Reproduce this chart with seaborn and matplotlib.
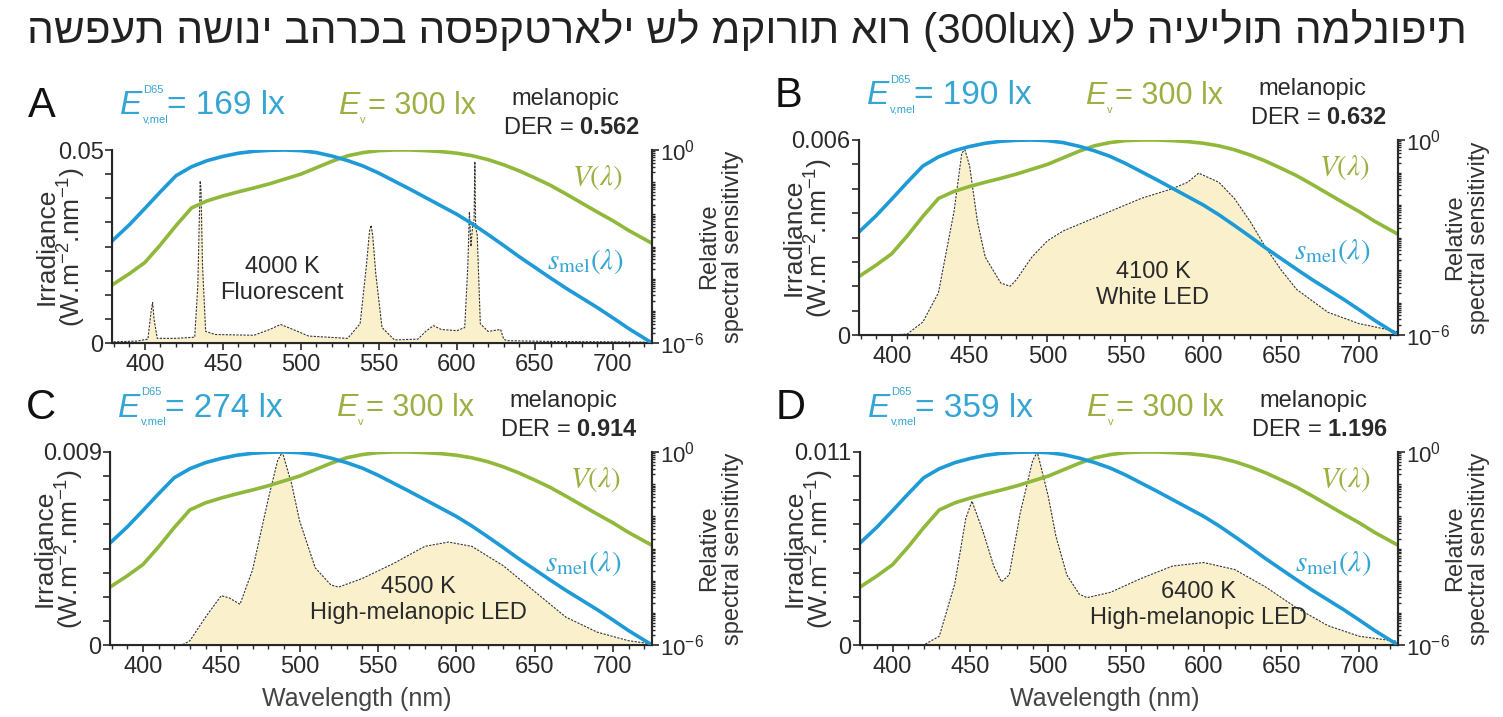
import numpy as np
import matplotlib
matplotlib.use("Agg")
import matplotlib.pyplot as plt
import seaborn as sns
from matplotlib.ticker import FixedLocator, MultipleLocator, NullFormatter

sns.set_style("ticks")
plt.rcParams['font.family'] = ['Liberation Sans', 'DejaVu Sans']
plt.rcParams['mathtext.fontset'] = 'custom'
plt.rcParams['mathtext.rm'] = 'Liberation Sans'
plt.rcParams['mathtext.it'] = 'Liberation Sans:italic'
plt.rcParams['mathtext.bf'] = 'Liberation Sans:bold'

# relative spectral sensitivities (log10), same for every panel
wl_sens = [379, 390, 400, 410, 420, 430, 440, 450, 460, 470, 480, 490, 500, 510, 520,
           530, 540, 550, 560, 570, 580, 590, 600, 610, 620, 630, 640, 650, 660, 670,
           680, 690, 700, 710, 725]
smel_log = [-2.83, -2.33, -1.82, -1.3, -0.8, -0.52, -0.33, -0.2, -0.1, -0.04, -0.01, 0.0,
            -0.02, -0.08, -0.19, -0.33, -0.5, -0.72, -0.97, -1.22, -1.48, -1.74, -2.0,
            -2.3, -2.63, -2.97, -3.32, -3.65, -3.98, -4.3, -4.6, -4.9, -5.22, -5.55, -6.0]
vlam_log = [-4.2, -3.85, -3.5, -2.95, -2.35, -1.8, -1.58, -1.43, -1.3, -1.18, -1.05, -0.9,
            -0.75, -0.55, -0.35, -0.18, -0.08, -0.02, 0.0, 0.0, -0.02, -0.05, -0.1, -0.18,
            -0.3, -0.46, -0.65, -0.87, -1.1, -1.37, -1.65, -1.93, -2.2, -2.5, -2.9]

# A: 4000 K fluorescent
wl_a = [380, 395, 402, 404, 405, 406, 408, 420, 432, 434, 435.5, 436, 437, 439, 445, 470,
        480, 487, 495, 505, 530, 538, 542, 544, 545, 546, 548, 552, 560, 575, 580, 585,
        590, 600, 605, 607, 608, 609, 610, 611, 611.5, 612, 613, 615, 620, 628, 630, 632,
        660, 700, 725]
irr_a = [0.0003, 0.0005, 0.001, 0.008, 0.0105, 0.006, 0.0012, 0.0012, 0.0015, 0.015, 0.042,
         0.04, 0.02, 0.003, 0.0022, 0.002, 0.0035, 0.0048, 0.0035, 0.0018, 0.0012, 0.005,
         0.02, 0.029, 0.0305, 0.028, 0.018, 0.004, 0.0008, 0.001, 0.003, 0.0045, 0.0035,
         0.0032, 0.004, 0.02, 0.034, 0.025, 0.03, 0.032, 0.047, 0.03, 0.028, 0.005, 0.003,
         0.0035, 0.001, 0.0006, 0.0004, 0.0003, 0.0002]

# B: 4100 K white LED
wl_b = [380, 400, 410, 420, 430, 440, 445, 447, 450, 455, 460, 470, 476, 480, 490, 500,
        510, 520, 540, 560, 580, 590, 597, 610, 620, 630, 640, 650, 660, 680, 700, 725]
irr_b = [0.0, 0.0, 0.00003, 0.0004, 0.0013, 0.0038, 0.0056, 0.0057, 0.0052, 0.0035, 0.0024,
         0.0016, 0.0015, 0.0017, 0.0024, 0.0029, 0.0032, 0.0034, 0.0038, 0.0042, 0.0045,
         0.0047, 0.00498, 0.0047, 0.0042, 0.0035, 0.0027, 0.002, 0.0014, 0.0007, 0.00035,
         0.0001]

# C: 4500 K high-melanopic LED
wl_c = [380, 425, 430, 440, 450, 455, 462, 470, 480, 486, 489, 495, 500, 510, 520, 525,
        540, 560, 580, 595, 610, 630, 650, 670, 690, 710, 725]
irr_c = [0.0, 0.0, 0.0002, 0.0013, 0.0023, 0.0022, 0.0019, 0.0035, 0.0068, 0.0086, 0.009,
         0.0075, 0.0058, 0.0036, 0.0028, 0.0027, 0.0031, 0.0038, 0.0046, 0.0048, 0.0046,
         0.0037, 0.0025, 0.0013, 0.0006, 0.0002, 0.00005]

# D: 6400 K high-melanopic LED
wl_d = [380, 420, 430, 440, 447, 451, 458, 465, 470, 475, 482, 490, 493, 500, 505, 512,
        520, 525, 540, 560, 580, 600, 620, 640, 660, 680, 700, 725]
irr_d = [0.0, 0.0, 0.0005, 0.0035, 0.0072, 0.0082, 0.0065, 0.0045, 0.0036, 0.004, 0.0075,
         0.0105, 0.011, 0.0085, 0.0062, 0.004, 0.0029, 0.0027, 0.003, 0.0038, 0.0045,
         0.0047, 0.0043, 0.0033, 0.0021, 0.0011, 0.0005, 0.0002]

letters = ["A", "B", "C", "D"]
e_mel = [169, 190, 274, 359]
der = ["0.562", "0.632", "0.914", "1.196"]
y_max = [0.05, 0.006, 0.009, 0.011]
y_top_label = ["0.05", "0.006", "0.009", "0.011"]
source_names = ["4000 K\nFluorescent", "4100 K\nWhite LED",
                "4500 K\nHigh-melanopic LED", "6400 K\nHigh-melanopic LED"]
spectra = [(wl_a, irr_a), (wl_b, irr_b), (wl_c, irr_c), (wl_d, irr_d)]

title = "השפעת השוני בהרכב הספקטראלי של מקורות אור (300lux) על היעילות המלנופית"

blue = "#1e9ad6"
green = "#90b83a"
blue_txt = "#35a5d3"
green_txt = "#9fae42"
fill_col = "#faf1cc"
ink = "#2a2a2a"

W, H = 1503, 717
fig = plt.figure(figsize=(W / 100, H / 100), dpi=100)

# panel boxes in pixels: left, top, right, bottom
boxes = [(112, 150, 652, 343), (859, 140, 1398, 335), (110, 452, 652, 645), (860, 452, 1398, 645)]
name_pos = [(282, 280), (1153, 285), (418, 600), (1198, 605)]


def put(x, y, s, **kw):
    return fig.text(x / W, 1 - y / H, s, **kw)


put(747, 30, title, fontsize=30.5, color="#222222", ha="center", va="center")

sens_rel_s = [10 ** v for v in smel_log]
sens_rel_v = [10 ** v for v in vlam_log]

for i in range(4):
    l, t, r, b = boxes[i]
    wpx, hpx = r - l, b - t
    ax = fig.add_axes([l / W, 1 - b / H, wpx / W, hpx / H])
    wl, irr = spectra[i]
    ax.fill_between(wl, irr, 0, color=fill_col, lw=0)
    sns.lineplot(x=wl, y=irr, ax=ax, color="#333333", lw=0.8, linestyle=(0, (2, 1.2)))
    ax.set_xlim(379, 725)
    ax.set_ylim(0, y_max[i])
    ax.set_yticks(np.linspace(0, y_max[i], 9))
    ax.set_yticklabels(["0"] + [""] * 7 + [y_top_label[i]])
    ax.set_xticks(range(400, 701, 50))
    ax.xaxis.set_minor_locator(MultipleLocator(10))
    ax.tick_params(axis="both", which="major", labelsize=17, length=5, width=1.2,
                   colors=ink, pad=3)
    ax.tick_params(axis="x", which="minor", length=3, width=1, colors=ink)
    ax.tick_params(axis="y", pad=1)
    for sp in ["left", "bottom", "right"]:
        ax.spines[sp].set_linewidth(1.5)
        ax.spines[sp].set_color(ink)
    ax.spines["top"].set_visible(False)
    ax.set_ylabel("Irradiance\n(W.m$^{-2}$.nm$^{-1}$)", fontsize=19,
                  linespacing=0.9, color="#333333")
    ax.yaxis.set_label_coords(-24 / wpx, 0.5)
    if i >= 2:
        ax.set_xlabel("Wavelength (nm)", fontsize=18, color="#444444")
        ax.xaxis.set_label_coords(0.455, -42 / hpx)

    ax2 = ax.twinx()
    sns.lineplot(x=wl_sens, y=sens_rel_v, ax=ax2, color=green, lw=2.6)
    sns.lineplot(x=wl_sens, y=sens_rel_s, ax=ax2, color=blue, lw=2.6)
    ax2.set_yscale("log")
    ax2.set_ylim(1e-6, 1)
    ax2.set_xlim(379, 725)
    ax2.yaxis.set_major_locator(FixedLocator([1e-6, 1]))
    ax2.yaxis.set_minor_locator(FixedLocator(
        [m * 10.0 ** e for e in range(-6, 0) for m in range(1, 10)]))
    ax2.yaxis.set_minor_formatter(NullFormatter())
    ax2.tick_params(axis="y", which="major", labelsize=16, length=5, width=1.2, pad=1,
                    colors=ink)
    ax2.tick_params(axis="y", which="minor", length=2.5, width=1, colors=ink)
    ax2.spines["top"].set_visible(False)
    ax2.spines["right"].set_linewidth(1.5)
    ax2.spines["right"].set_color(ink)
    ax2.set_ylabel("Relative\nspectral sensitivity", fontsize=17, color="#333333",
                   linespacing=1.1)
    ax2.yaxis.set_label_coords(1 + 46 / wpx, 0.5)

    # annotations around the panel
    put(l - 84, t - 44, letters[i], fontsize=30, ha="left", va="center", color="#111111")
    put(l + 8, t - 44, "E", fontsize=24, style="italic", ha="left", va="center",
        color=blue_txt)
    put(l + 31, t - 60, "D65", fontsize=8, ha="left", va="center", color=blue_txt)
    put(l + 31, t - 30, "v,mel", fontsize=8, ha="left", va="center", color=blue_txt)
    put(l + 55, t - 44, "= %d lx" % e_mel[i], fontsize=24, ha="left", va="center",
        color=blue_txt)
    put(l + 226, t - 44, "E", fontsize=23, style="italic", ha="left", va="center",
        color=green_txt)
    put(l + 248, t - 30, "v", fontsize=8, ha="left", va="center", color=green_txt)
    put(l + 256, t - 44, "= 300 lx", fontsize=22, ha="left", va="center",
        color=green_txt)
    put(l + 453, t - 51, "melanopic", fontsize=17, ha="center", va="center", color=ink)
    put(l + 528, t - 22, "DER = $\\mathbf{%s}$" % der[i], fontsize=17, ha="right",
        va="center", color=ink)
    put(l + 486, t + 28, r"$V(\lambda)$", fontsize=21, ha="center", va="center",
        color=green_txt, math_fontfamily="stix")
    put(l + 473, t + 112, r"$s_{\rm mel}(\lambda)$", fontsize=21, ha="center", va="center",
        color=blue_txt, math_fontfamily="stix")
    put(name_pos[i][0], name_pos[i][1], source_names[i], fontsize=17, ha="center",
        va="center", color=ink, linespacing=1.25)

fig.savefig("out.png", dpi=100, facecolor="white")
